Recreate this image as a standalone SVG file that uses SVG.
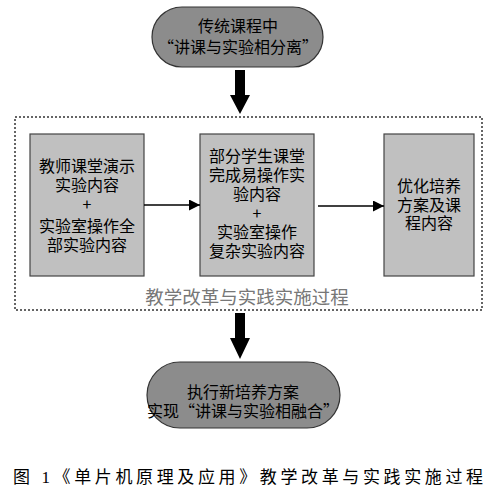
<svg xmlns="http://www.w3.org/2000/svg" width="500" height="493" viewBox="0 0 500 493">
<defs>
<style>
.t{font-family:"Noto Sans CJK SC","Liberation Sans",sans-serif;font-size:16px;fill:#000;text-anchor:middle}
.pill{fill:#8c8c8c;stroke:#333;stroke-width:1.2}
.box{fill:#c0c0c0;stroke:#444;stroke-width:1.2}
.big{fill:#000}
.ln{stroke:#000;stroke-width:1.6;fill:none}
</style>
<marker id="ah" viewBox="0 0 10 10" refX="10" refY="5" markerWidth="17" markerHeight="11" markerUnits="userSpaceOnUse" orient="auto">
<path d="M0,0 L10,5 L0,10 Z" fill="#000"/>
</marker>
</defs>
<rect width="500" height="493" fill="#fff"/>
<g id="frame">
<rect x="15" y="117" width="467" height="193" fill="none" stroke="#333" stroke-width="1.5" stroke-dasharray="2,2"/>
<text x="247" y="304" style="font-family:'Noto Sans CJK SC',sans-serif;font-size:18.5px;fill:#777;text-anchor:middle">教学改革与实践实施过程</text>
</g>
<g id="start">
<rect class="pill" x="152" y="7" width="171" height="60" rx="30" ry="30"/>
<text class="t" x="238" y="32">传统课程中</text>
<text class="t" x="238" y="53">“讲课与实验相分离”</text>
</g>
<g id="box1">
<rect class="box" x="30" y="134" width="114" height="142"/>
<text class="t" x="87" y="172">教师课堂演示</text>
<text class="t" x="87" y="191">实验内容</text>
<text class="t" x="87" y="210">+</text>
<text class="t" x="87" y="232">实验室操作全</text>
<text class="t" x="87" y="251">部实验内容</text>
</g>
<g id="box2">
<rect class="box" x="200" y="134" width="114" height="142"/>
<text class="t" x="257" y="162">部分学生课堂</text>
<text class="t" x="257" y="181">完成易操作实</text>
<text class="t" x="257" y="200">验内容</text>
<text class="t" x="257" y="219">+</text>
<text class="t" x="257" y="238">实验室操作</text>
<text class="t" x="257" y="257">复杂实验内容</text>
</g>
<g id="box3">
<rect class="box" x="384" y="134" width="90" height="142"/>
<text class="t" x="429" y="192">优化培养</text>
<text class="t" x="429" y="211">方案及课</text>
<text class="t" x="429" y="229">程内容</text>
</g>
<g id="end">
<rect class="pill" x="147" y="362" width="193" height="66" rx="33" ry="33"/>
<text class="t" x="243" y="398">执行新培养方案</text>
<text class="t" x="243" y="417">实现“讲课与实验相融合”</text>
</g>
<g id="connectors">
<path class="big" d="M235,70 H245 V95 H250 L240,114 L230,95 H235 Z"/>
<path class="big" d="M235,313 H245 V338 H250 L240,359 L230,338 H235 Z"/>
<line class="ln" x1="144" y1="205" x2="200" y2="205" marker-end="url(#ah)"/>
<line class="ln" x1="318" y1="206" x2="384" y2="206" marker-end="url(#ah)"/>
</g>
<text x="13" y="483" textLength="470" lengthAdjust="spacing" style="font-family:'Liberation Serif','Noto Sans CJK SC',serif;font-size:17px;fill:#000">图 1《单片机原理及应用》教学改革与实践实施过程</text>
</svg>
